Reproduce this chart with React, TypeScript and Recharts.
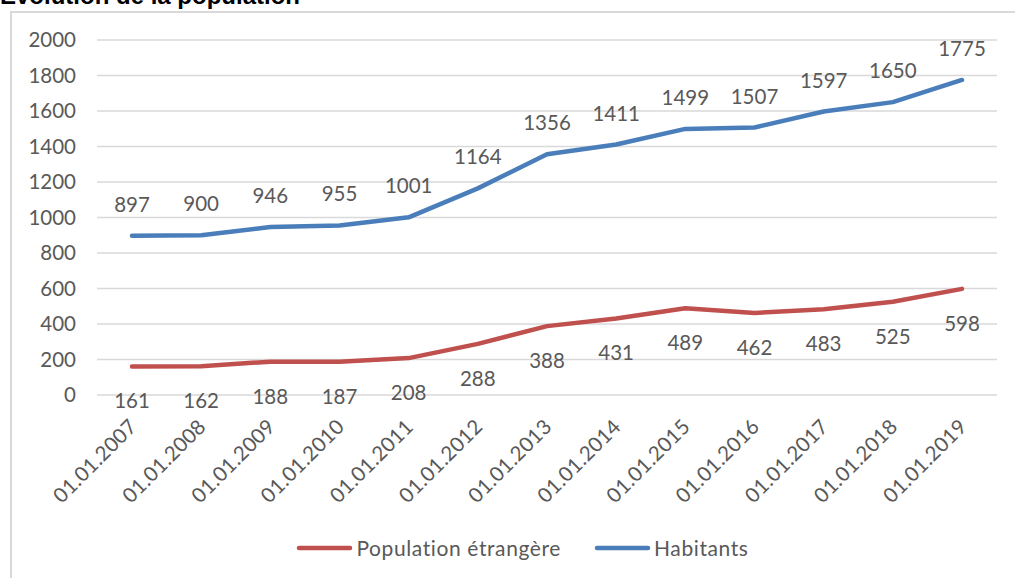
import React from "react";
import { LineChart, Line, XAxis, YAxis, CartesianGrid } from "recharts";

const categories = [
  "01.01.2007", "01.01.2008", "01.01.2009", "01.01.2010", "01.01.2011", "01.01.2012", "01.01.2013",
  "01.01.2014", "01.01.2015", "01.01.2016", "01.01.2017", "01.01.2018", "01.01.2019",
];
const etrangers = [161, 162, 188, 187, 208, 288, 388, 431, 489, 462, 483, 525, 598];
const habitants = [897, 900, 946, 955, 1001, 1164, 1356, 1411, 1499, 1507, 1597, 1650, 1775];
const yTicks = [0, 200, 400, 600, 800, 1000, 1200, 1400, 1600, 1800, 2000];
const seriesNames = ["Population étrangère", "Habitants"];

const data = categories.map((c, i) => ({ date: c, etr: etrangers[i], hab: habitants[i] }));

const FONT = "Lato, 'Open Sans', sans-serif";
const TXT = "#595959";
const BLUE = "#4A7EBB";
const RED = "#C0504D";
const legendColors = [RED, BLUE];

const XTick = (props: any) => {
  const { x, y, payload } = props;
  const px = x + 6;
  const py = y + 25;
  return (
    <text
      x={px}
      y={py}
      transform={`rotate(-45 ${px} ${py})`}
      textAnchor="end"
      fill={TXT}
      fontSize={20.5}
      fontFamily={FONT}
      letterSpacing={0.3}
    >
      {payload.value}
    </text>
  );
};

const makeLabel = (dy: number) => (props: any) => {
  const { x, y, value } = props;
  return (
    <text
      x={x}
      y={y + dy}
      textAnchor="middle"
      dominantBaseline="central"
      fill={TXT}
      fontSize={20.5}
      fontFamily={FONT}
    >
      {value}
    </text>
  );
};

export default function App() {
  return (
    <div style={{ position: "fixed", left: 0, top: 0, width: 1015, height: 578, overflow: "hidden", background: "#fff" }}>
      <div
        style={{
          position: "absolute",
          left: 10,
          top: 11,
          width: 1020,
          height: 600,
          border: "2px solid #d9d9d9",
          boxSizing: "border-box",
        }}
      />
      <div
        style={{
          position: "absolute",
          left: 0,
          top: -16,
          fontFamily: "'Liberation Sans', Arial, sans-serif",
          fontWeight: "bold",
          fontSize: 24,
          lineHeight: "24px",
          color: "#000",
          whiteSpace: "nowrap",
        }}
      >
        Évolution de la population
      </div>
      <div style={{ position: "absolute", left: 0, top: 0 }}>
        <LineChart width={1015} height={578} data={data} margin={{ top: 40, right: 18, left: 0, bottom: 0 }}>
          <CartesianGrid vertical={false} stroke="#d9d9d9" strokeWidth={1.5} />
          <XAxis
            dataKey="date"
            axisLine={false}
            tickLine={false}
            interval={0}
            height={183}
            padding={{ left: 35, right: 35 }}
            tick={<XTick />}
          />
          <YAxis
            domain={[0, 2000]}
            ticks={yTicks}
            axisLine={false}
            tickLine={false}
            tickSize={0}
            tickMargin={21}
            width={97}
            tick={{ fill: TXT, fontSize: 20.5, fontFamily: FONT }}
          />
          <Line
            dataKey="etr"
            name={seriesNames[0]}
            type="linear"
            stroke={RED}
            strokeWidth={4.5}
            strokeLinecap="round"
            strokeLinejoin="round"
            dot={false}
            activeDot={false}
            isAnimationActive={false}
            label={makeLabel(34)}
          />
          <Line
            dataKey="hab"
            name={seriesNames[1]}
            type="linear"
            stroke={BLUE}
            strokeWidth={4.5}
            strokeLinecap="round"
            strokeLinejoin="round"
            dot={false}
            activeDot={false}
            isAnimationActive={false}
            label={makeLabel(-32)}
          />
        </LineChart>
      </div>
      <div
        style={{
          position: "absolute",
          left: 0,
          top: 535,
          width: 1015,
          display: "flex",
          justifyContent: "center",
          alignItems: "center",
          gap: 33,
          paddingLeft: 30,
          boxSizing: "border-box",
        }}
      >
        {seriesNames.map((n, i) => (
          <div key={n} style={{ display: "flex", alignItems: "center" }}>
            <svg width={57} height={8} style={{ marginRight: 3 }}>
              <line x1={3} y1={4} x2={54} y2={4} stroke={legendColors[i]} strokeWidth={4.5} strokeLinecap="round" />
            </svg>
            <span style={{ fontFamily: FONT, fontSize: 21, letterSpacing: 0.6, color: TXT }}>{n}</span>
          </div>
        ))}
      </div>
    </div>
  );
}
